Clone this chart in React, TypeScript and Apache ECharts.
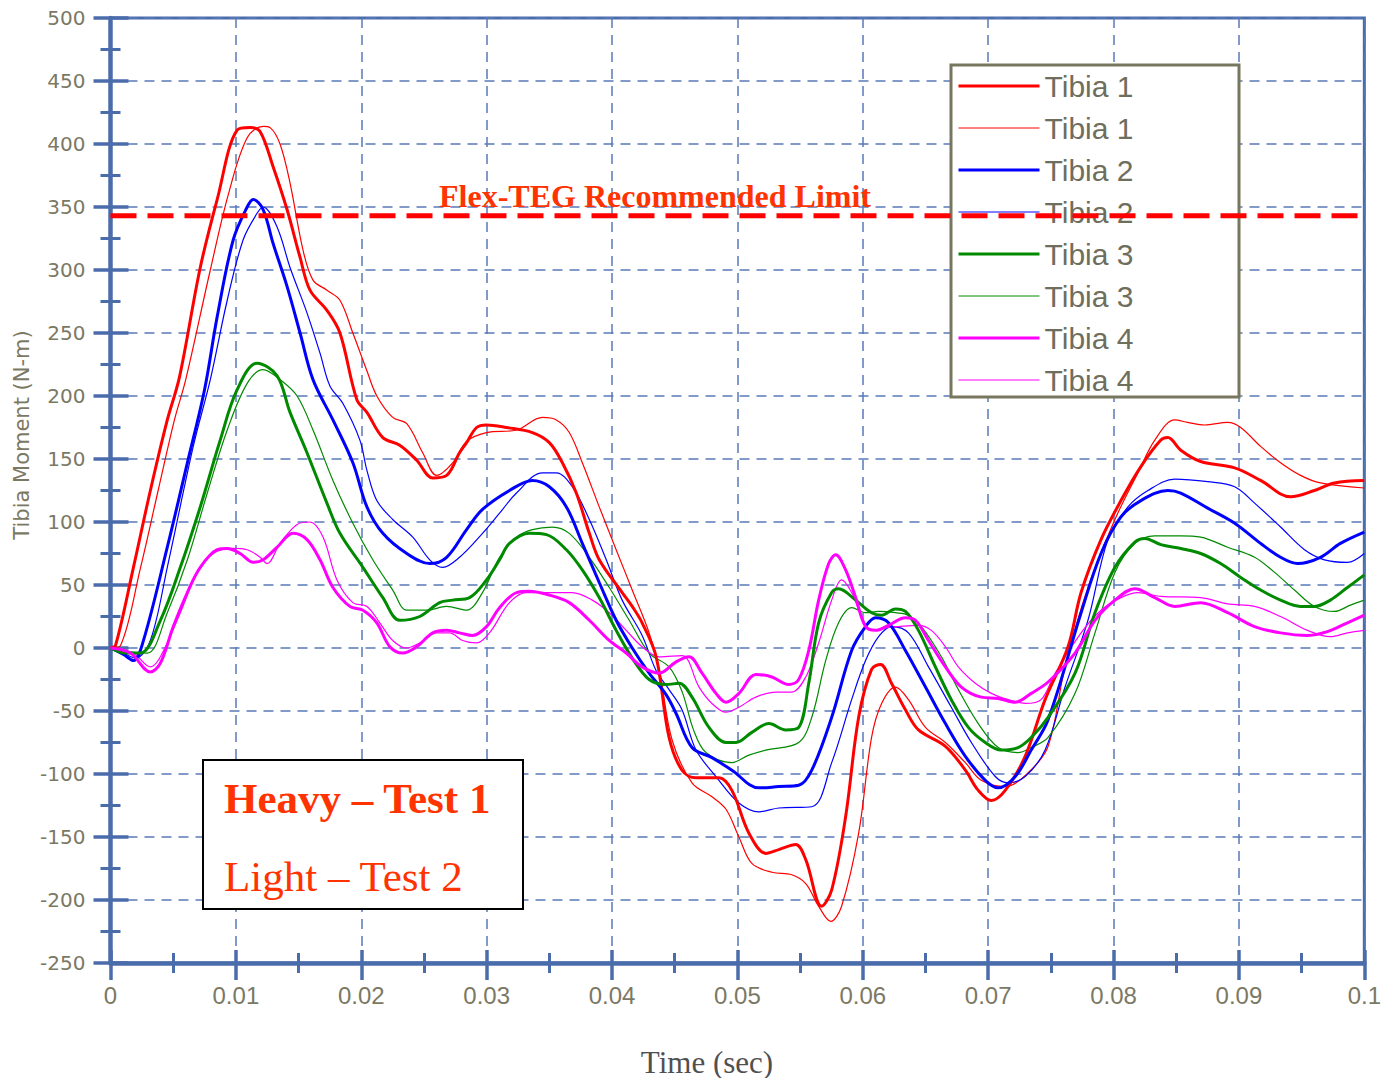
import React, { useEffect, useRef } from "react";
import * as echarts from "echarts";

// time in milliseconds, value in N-m
const heavyTibia1: [number, number][] = [
  [0, 0], [0.4, 2], [1.83, 64], [3.18, 125], [4.53, 181], [5.5, 215], [7.16, 302], [8.51, 356], [10.1, 411], [11.14, 413],
  [11.93, 410], [12.97, 382], [14.08, 348], [15.12, 310], [15.91, 284], [17.26, 268], [18.3, 250], [19.65, 197], [20.45, 187],
  [21.72, 167], [23.07, 161], [24.42, 149], [25.7, 135], [26.81, 137], [27.84, 155], [28.4, 163], [29.2, 175], [29.99, 177],
  [31.58, 175], [33.65, 171], [35.0, 163], [36.04, 147], [37.15, 123], [38.19, 91], [38.98, 70], [40.81, 44], [41.61, 33],
  [42.4, 20], [43.52, -7], [44.55, -71], [45.58, -97], [46.7, -103], [48.53, -103], [49.56, -113], [50.92, -147],
  [52.27, -163], [53.3, -160], [54.65, -156], [55.45, -168], [56.72, -205], [57.52, -192], [58.63, -134], [59.67, -55],
  [60.7, -17], [61.42, -13], [62.29, -28], [63.4, -49], [64.44, -65], [66.59, -78], [68.18, -97], [69.21, -113],
  [70.25, -121], [71.36, -113], [72.95, -86], [74.54, -41], [76.37, 1], [77.41, 44], [79.0, 86], [80.59, 117], [82.18, 144],
  [83.77, 165], [84.33, 167], [85.36, 157], [86.95, 148], [89.66, 143], [91.73, 133], [94.11, 120], [96.02, 125],
  [97.61, 131], [100, 133],
];
const lightTibia1: [number, number][] = [
  [0, 0], [0.8, 2], [2.4, 64], [3.8, 125], [5.1, 181], [6.0, 213], [7.96, 300], [9.4, 360], [10.9, 405], [12.2, 414],
  [12.73, 413], [13.52, 400], [14.32, 369], [15.35, 316], [16.15, 292], [17.26, 284], [18.3, 276], [19.33, 250],
  [20.45, 220], [21.24, 200], [22.51, 183], [23.63, 178], [24.9, 155], [26.01, 137], [27.29, 147], [28.4, 164],
  [29.99, 171], [32.38, 173], [34.45, 183], [35.56, 181], [36.59, 171], [37.63, 147], [38.98, 112], [40.33, 78],
  [41.61, 46], [42.96, 12], [43.76, -17], [44.79, -73], [46.38, -107], [47.97, -118], [49.09, -128], [50.12, -150],
  [51.15, -171], [52.75, -178], [54.34, -180], [55.45, -187], [56.48, -205], [57.44, -217], [58.31, -205], [59.67, -147],
  [60.7, -71], [61.5, -44], [62.61, -31], [63.64, -41], [65.0, -63], [66.59, -75], [68.18, -91], [69.45, -105],
  [71.36, -110], [73.19, -99], [74.78, -78], [76.13, -15], [77.96, 48], [80.11, 102], [81.94, 139], [83.29, 165],
  [84.88, 181], [85.92, 179], [87.27, 177], [89.1, 179], [90.14, 175], [91.73, 160], [93.32, 147], [94.91, 137],
  [96.5, 131], [100, 127],
];
const heavyTibia2: [number, number][] = [
  [0, 0], [1.0, -5], [1.83, -10], [2.63, 6], [4.53, 80], [6.13, 147], [7.5, 205], [8.51, 263], [9.79, 324], [10.9, 350],
  [11.38, 356], [12.17, 348], [12.97, 321], [14.08, 287], [15.12, 250], [16.15, 213], [17.74, 181], [19.33, 147],
  [20.45, 112], [21.72, 91], [23.63, 75], [25.46, 67], [26.81, 72], [28.4, 94], [29.67, 110], [31.82, 125], [33.65, 133],
  [35.0, 128], [36.36, 112], [37.63, 83], [38.98, 52], [40.33, 22], [41.61, 0], [42.96, -20], [44.31, -37], [45.11, -52],
  [46.38, -79], [47.97, -87], [49.56, -97], [51.71, -111], [53.3, -110], [54.89, -109], [55.93, -97], [57.52, -55],
  [59.11, -2], [60.22, 17], [61.02, 24], [62.05, 20], [63.4, -2], [65.0, -31], [66.59, -60], [68.18, -86], [69.77, -105],
  [70.8, -111], [72.16, -102], [73.43, -81], [74.78, -57], [77.41, 28], [79.0, 75], [80.59, 104], [82.18, 117],
  [84.33, 125], [85.36, 123], [87.51, 111], [89.66, 99], [91.73, 83], [93.32, 72], [94.67, 67], [96.5, 72], [98.09, 83],
  [100, 92],
];
const lightTibia2: [number, number][] = [
  [0, 0], [1.2, -5], [2.0, -8], [3.18, 6], [4.53, 64], [6.6, 160], [7.96, 213], [9.31, 276], [10.58, 324], [11.69, 345],
  [12.17, 350], [13.29, 334], [14.32, 302], [15.67, 266], [16.71, 234], [17.5, 208], [18.54, 194], [19.89, 165],
  [20.45, 141], [21.24, 117], [22.51, 102], [24.11, 88], [25.46, 70], [26.49, 64], [27.84, 72], [29.67, 91], [31.03, 107],
  [32.38, 123], [34.45, 139], [35.56, 139], [36.83, 128], [38.19, 102], [39.54, 70], [40.81, 38], [42.4, 10], [43.52, -18],
  [44.55, -33], [45.58, -49], [46.7, -81], [48.29, -102], [50.12, -123], [51.71, -130], [53.3, -127], [55.93, -126],
  [57.52, -91], [59.11, -41], [60.22, -10], [61.26, 9], [62.29, 17], [63.64, 12], [65.24, -15], [67.06, -47], [68.66, -75],
  [70.57, -102], [71.6, -107], [72.95, -102], [74.54, -81], [76.13, -31], [77.96, 22], [79.55, 86], [81.15, 112],
  [82.74, 125], [84.88, 134], [87.51, 132], [89.66, 128], [91.25, 115], [93.32, 96], [95.23, 78], [96.82, 70],
  [98.65, 68], [100, 75],
];
const heavyTibia3: [number, number][] = [
  [0, 0], [1.2, -4], [2.39, -4], [3.98, 22], [5.57, 64], [7.16, 112], [8.75, 165], [10.1, 205], [11.69, 226], [13.29, 216],
  [14.32, 187], [15.67, 155], [17.26, 115], [18.3, 91], [20.13, 64], [21.72, 40], [23.07, 22], [24.66, 25], [26.25, 36],
  [27.29, 38], [28.64, 40], [29.99, 54], [31.03, 70], [31.82, 83], [33.41, 91], [34.77, 90], [36.36, 78], [37.63, 62],
  [38.98, 40], [40.33, 14], [41.61, -8], [42.96, -25], [44.31, -29], [45.35, -28], [46.38, -39], [47.73, -63], [49.09, -75],
  [49.88, -75], [51.15, -67], [52.51, -60], [53.86, -65], [54.89, -63], [55.69, -28], [56.48, 20], [57.52, 44], [58.07, 47],
  [59.43, 38], [60.7, 28], [61.5, 26], [62.61, 31], [63.4, 29], [64.44, 14], [65.79, -15], [67.06, -41], [68.42, -63],
  [69.77, -75], [71.04, -81], [72.39, -79], [73.43, -71], [74.78, -55], [76.93, -20], [78.52, 28], [80.11, 64], [81.7, 84],
  [82.5, 87], [83.77, 82], [85.36, 79], [86.95, 75], [88.54, 67], [90.14, 56], [91.73, 46], [93.32, 38], [94.91, 33],
  [96.02, 33], [97.29, 38], [98.65, 48], [100, 58],
];
const lightTibia3: [number, number][] = [
  [0, 0], [1.5, -3], [2.94, -4], [4.53, 28], [6.13, 70], [7.72, 123], [9.31, 173], [10.9, 210], [12.17, 221], [13.52, 213],
  [14.88, 200], [16.15, 173], [17.74, 133], [19.33, 99], [20.92, 70], [22.51, 46], [23.63, 30], [25.22, 30], [26.81, 33],
  [28.4, 30], [29.67, 44], [31.03, 72], [32.38, 88], [33.65, 94], [35.24, 96], [36.59, 91], [38.19, 72], [39.78, 48],
  [41.37, 22], [42.96, -4], [44.55, -15], [45.6, -35], [46.5, -65], [47.49, -83], [49.56, -91], [50.92, -85], [52.27, -81],
  [54.89, -75], [55.93, -55], [57.04, -10], [58.07, 20], [59.11, 32], [60.22, 28], [61.26, 29], [62.61, 28], [63.64, 26],
  [64.68, 17], [66.27, -7], [67.62, -33], [69.21, -60], [70.8, -79], [72.39, -83], [73.43, -79], [74.78, -71], [76.93, -36],
  [78.52, 12], [80.11, 60], [81.7, 83], [83.29, 89], [85.36, 89], [86.95, 88], [89.1, 80], [91.25, 72], [92.84, 60],
  [94.43, 46], [96.02, 33], [97.61, 29], [98.89, 34], [100, 38],
];
const heavyTibia4: [number, number][] = [
  [0, 0], [1.59, -4], [3.18, -19], [3.98, -12], [5.01, 17], [6.13, 44], [7.16, 64], [8.51, 78], [9.31, 79], [10.34, 75],
  [11.38, 68], [12.17, 70], [13.29, 80], [14.56, 91], [15.67, 86], [16.71, 70], [17.74, 48], [19.09, 33], [20.13, 30],
  [21.24, 20], [22.28, 1], [23.31, -4], [24.42, 1], [25.7, 12], [26.81, 14], [27.84, 12], [28.88, 10], [29.99, 17],
  [31.03, 32], [32.38, 44], [33.41, 45], [35.0, 42], [36.59, 36], [38.19, 22], [39.78, 6], [41.13, -4], [42.4, -15],
  [43.76, -20], [45.11, -11], [46.14, -7], [47.18, -20], [48.29, -36], [49.09, -43], [50.12, -36], [51.47, -21],
  [52.75, -23], [54.1, -29], [54.89, -25], [55.69, -2], [56.48, 38], [57.28, 67], [57.84, 74], [58.63, 62], [59.43, 40],
  [60.22, 17], [61.02, 14], [62.05, 18], [63.4, 24], [64.2, 22], [65.24, 6], [66.59, -15], [67.86, -31], [69.45, -39],
  [70.8, -40], [72.16, -43], [73.43, -36], [74.78, -27], [76.93, -4], [78.52, 22], [80.11, 38], [81.7, 47], [83.29, 40],
  [84.88, 33], [86.95, 36], [89.1, 28], [91.25, 17], [93.32, 12], [95.47, 10], [97.06, 13], [98.65, 20], [100, 26],
];
const lightTibia4: [number, number][] = [
  [0, 0], [1.83, -4], [3.18, -15], [3.98, -7], [5.57, 28], [6.92, 60], [8.19, 75], [9.79, 79], [10.9, 78], [11.93, 72],
  [12.49, 67], [13.52, 83], [14.88, 98], [15.91, 100], [16.95, 88], [18.06, 54], [19.33, 36], [20.45, 33], [21.48, 20],
  [22.51, 6], [23.63, 0], [24.66, 4], [26.01, 12], [27.05, 12], [28.08, 6], [29.2, 4], [30.23, 12], [31.82, 36],
  [33.17, 44], [35.0, 44], [36.83, 44], [38.42, 38], [39.78, 28], [41.13, 14], [42.4, 1], [43.76, -7], [45.58, -6],
  [46.94, -31], [47.97, -44], [49.09, -51], [50.12, -47], [51.47, -39], [53.06, -35], [54.34, -35], [55.45, -23],
  [56.48, 4], [57.52, 38], [58.31, 54], [59.11, 44], [59.9, 25], [60.7, 14], [61.81, 16], [62.85, 17], [64.44, 18],
  [65.47, 14], [66.59, 1], [67.62, -15], [68.97, -28], [70.25, -36], [71.6, -41], [72.95, -44], [74.22, -41], [75.34, -20],
  [77.41, 12], [79.0, 30], [80.59, 40], [81.94, 44], [83.77, 41], [86.95, 40], [89.1, 35], [91.25, 33], [93.32, 25],
  [95.47, 14], [97.29, 9], [98.65, 12], [100, 14],
];

const limitValue = 343;
const limitSpan = [0, 100];

const seriesNames = [
  "Tibia 1 (Heavy)", "Tibia 1 (Light)", "Tibia 2 (Heavy)", "Tibia 2 (Light)",
  "Tibia 3 (Heavy)", "Tibia 3 (Light)", "Tibia 4 (Heavy)", "Tibia 4 (Light)",
];
const seriesData = [heavyTibia1, lightTibia1, heavyTibia2, lightTibia2, heavyTibia3, lightTibia3, heavyTibia4, lightTibia4];
const seriesColors = ["#ff0000", "#ff0000", "#0000ff", "#0000ff", "#008a00", "#008a00", "#ff00ff", "#ff00ff"];
const seriesWidths = [3, 1.2, 3, 1.2, 3, 1.2, 3, 1.2];

const AXIS = "#4b6cab";
const TXT = "#7b7864";

export default function App() {
  const ref = useRef<HTMLDivElement>(null);
  useEffect(() => {
    if (!ref.current) return;
    const chart = echarts.init(ref.current, undefined, { renderer: "svg" });
    const lines: any[] = seriesNames.map((name, i) => ({
      name,
      type: "line",
      data: seriesData[i],
      smooth: 0.35,
      showSymbol: false,
      symbol: "none",
      z: i % 2 === 0 ? 4 : 3,
      lineStyle: { color: seriesColors[i], width: seriesWidths[i] },
      itemStyle: { color: seriesColors[i] },
    }));
    lines.push({
      name: "limit",
      type: "line",
      data: limitSpan.map((t) => [t, limitValue]),
      symbol: "none",
      silent: true,
      z: 10,
      lineStyle: { color: "#ff0000", width: 5, type: [26, 11] },
    });
    const option: any = {
      animation: false,
      backgroundColor: "#ffffff",
      grid: { left: 110.5, right: 16.5, top: 18, bottom: 115, show: true, borderColor: AXIS, borderWidth: 3 },
      legend: {
        data: seriesNames.map((name, i) => ({
          name,
          lineStyle: { width: seriesWidths[i] > 2 ? 3 : 1, color: seriesColors[i] },
        })),
        orient: "vertical",
        left: 957,
        top: 71,
        padding: 0,
        itemWidth: 81,
        itemHeight: 14,
        itemGap: 12,
        selectedMode: false,
        itemStyle: { opacity: 0 },
        formatter: (n: string) => n.replace(/ \(.*\)$/, ""),
        textStyle: { fontSize: 30, lineHeight: 30, color: "#6f6e5c", fontFamily: "Liberation Sans, Arial, sans-serif" },
        z: 6,
      },
      xAxis: [
        {
          type: "value", min: 0, max: 100, interval: 10, position: "bottom",
          axisLine: { show: true, onZero: false, lineStyle: { color: AXIS, width: 4.5 } },
          axisTick: { show: true, inside: false, length: 17, lineStyle: { color: AXIS, width: 3.5 } },
          minorTick: { show: true, splitNumber: 2, length: 10, lineStyle: { color: AXIS, width: 3 } },
          axisLabel: {
            margin: 20, color: TXT, fontSize: 24,
            fontFamily: "Liberation Sans, Arial, sans-serif",
            formatter: (v: number) => (v === 0 ? "0" : String(+(v / 1000).toFixed(3))),
            showMaxLabel: true,
          },
          splitLine: { show: true, lineStyle: { color: "#5a7ab8", width: 1.5, type: [10, 7] } },
        },
        {
          type: "value", min: 0, max: 100, interval: 10, position: "bottom", offset: 0,
          axisLine: { show: false, onZero: false },
          axisTick: { show: true, inside: true, length: 13, lineStyle: { color: AXIS, width: 3.5 } },
          minorTick: { show: true, splitNumber: 2, length: 10, lineStyle: { color: AXIS, width: 3 } },
          axisLabel: { show: false },
          splitLine: { show: false },
        },
      ],
      yAxis: [
        {
          type: "value", min: -250, max: 500, interval: 50, position: "left",
          axisLine: { show: true, onZero: false, lineStyle: { color: AXIS, width: 4.5 } },
          axisTick: { show: true, inside: false, length: 17, lineStyle: { color: AXIS, width: 3.5 } },
          minorTick: { show: true, splitNumber: 2, length: 10, lineStyle: { color: AXIS, width: 3 } },
          axisLabel: { margin: 25, color: TXT, fontSize: 20, fontFamily: "DejaVu Sans, sans-serif" },
          splitLine: { show: true, lineStyle: { color: "#5a7ab8", width: 1.5, type: [10, 7] } },
        },
        {
          type: "value", min: -250, max: 500, interval: 50, position: "left", offset: 0,
          axisLine: { show: false, onZero: false },
          axisTick: { show: true, inside: true, length: 18, lineStyle: { color: AXIS, width: 3.5 } },
          minorTick: { show: true, splitNumber: 2, length: 10, lineStyle: { color: AXIS, width: 3 } },
          axisLabel: { show: false },
          splitLine: { show: false },
        },
      ],
      graphic: [
        {
          type: "rect", z: 1, zlevel: 0,
          shape: { x: 951, y: 65, width: 288, height: 332 },
          style: { fill: "#ffffff", stroke: "#77775f", lineWidth: 3 },
        },
        {
          type: "text", x: 22, y: 435, rotation: Math.PI / 2, z: 50,
          style: {
            text: "Tibia Moment (N-m)", fill: TXT, font: "21px DejaVu Sans, sans-serif",
            textAlign: "center", textVerticalAlign: "middle",
          },
        },
        {
          type: "text", x: 707, y: 1062, z: 50,
          style: {
            text: "Time (sec)", fill: "#505050", font: "31px Liberation Serif, Times New Roman, serif",
            textAlign: "center", textVerticalAlign: "middle",
          },
        },
        {
          type: "text", x: 655, y: 196, z: 50,
          style: {
            text: "Flex-TEG Recommended Limit", fill: "#ff3300",
            font: "bold 32px Liberation Serif, Times New Roman, serif",
            textAlign: "center", textVerticalAlign: "middle",
          },
        },
        {
          type: "rect", z: 50,
          shape: { x: 203, y: 760, width: 320, height: 149 },
          style: { fill: "#ffffff", stroke: "#000000", lineWidth: 2 },
        },
        {
          type: "text", x: 224, y: 798, z: 51,
          style: {
            text: "Heavy – Test 1", fill: "#ff3300",
            font: "bold 43px Liberation Serif, Times New Roman, serif",
            textAlign: "left", textVerticalAlign: "middle",
          },
        },
        {
          type: "text", x: 224, y: 876, z: 51,
          style: {
            text: "Light – Test 2", fill: "#ff3300",
            font: "43px Liberation Serif, Times New Roman, serif",
            textAlign: "left", textVerticalAlign: "middle",
          },
        },
      ],
      series: lines,
    };
    chart.setOption(option);
    return () => chart.dispose();
  }, []);
  return (
    <div
      ref={ref}
      style={{ position: "fixed", left: 0, top: 0, width: 1384, height: 1078, background: "#fff" }}
    />
  );
}
